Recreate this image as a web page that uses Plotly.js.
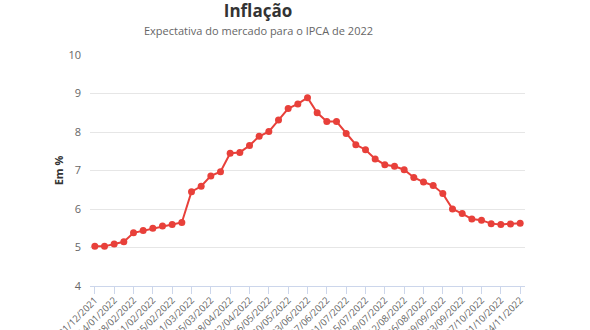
<!DOCTYPE html>
<html>
<head>
<meta charset="utf-8">
<script src="https://cdn.plot.ly/plotly-3.0.1.min.js"></script>
<style>html,body{margin:0;padding:0;background:#fff;}#chart{width:590px;height:330px;}</style>
</head>
<body>
<div id="chart"></div>
<script>
const dates = [
  "31/12/2021","07/01/2022","14/01/2022","21/01/2022","28/02/2022","04/02/2022","11/02/2022","18/02/2022",
  "25/02/2022","04/03/2022","11/03/2022","18/03/2022","25/03/2022","01/04/2022","08/04/2022","15/04/2022",
  "22/04/2022","29/04/2022","06/05/2022","13/05/2022","20/05/2022","27/05/2022","03/06/2022","10/06/2022",
  "17/06/2022","24/06/2022","01/07/2022","08/07/2022","15/07/2022","22/07/2022","29/07/2022","05/08/2022",
  "12/08/2022","19/08/2022","26/08/2022","02/09/2022","09/09/2022","16/09/2022","23/09/2022","30/09/2022",
  "07/10/2022","14/10/2022","21/10/2022","28/10/2022","04/11/2022"
];
const ipca = [
  5.03,5.03,5.09,5.15,5.38,5.44,5.50,5.56,
  5.60,5.65,6.45,6.59,6.86,6.97,7.45,7.47,
  7.65,7.89,8.01,8.31,8.61,8.73,8.89,8.50,
  8.27,8.27,7.96,7.67,7.54,7.30,7.15,7.11,
  7.02,6.82,6.70,6.61,6.40,6.00,5.88,5.74,
  5.71,5.62,5.60,5.61,5.63
];
const yTicks = [4,5,6,7,8,9,10];

const trace = {
  x: dates, y: ipca, type: 'scatter', mode: 'lines+markers',
  line: {color: '#e8403a', width: 2},
  marker: {color: '#e8403a', size: 7},
  hoverinfo: 'x+y'
};
const layout = {
  width: 590, height: 330,
  margin: {l: 90, r: 65, t: 55, b: 44},
  paper_bgcolor: '#fff', plot_bgcolor: '#fff',
  font: {family: '"Open Sans", sans-serif', color: '#666'},
  showlegend: false,
  title: {text: '<b>Inflação</b>', x: 258/590, xref: 'container', xanchor: 'center', y: 1 - 11/330, yref: 'container', yanchor: 'middle', font: {size: 17, color: '#333', family: '"Open Sans", sans-serif'}},
  annotations: [{text: 'Expectativa do mercado para o IPCA de 2022', xref: 'paper', yref: 'paper', x: 0, y: 0, showarrow: false,
    xanchor: 'center', yanchor: 'middle', font: {size: 11, color: '#666'}}],
  xaxis: {
    type: 'category', categoryorder: 'array', categoryarray: dates,
    range: [-0.5, dates.length - 0.5], automargin: false,
    tickmode: 'linear', tick0: 0, dtick: 2, tickangle: -45,
    ticks: 'outside', ticklen: 7, tickcolor: '#ccd6eb', tickwidth: 1,
    showline: true, linecolor: '#ccd6eb', linewidth: 1,
    showgrid: false, zeroline: false, ticklabelstandoff: -3,
    tickfont: {size: 9.5, color: '#666'}
  },
  yaxis: {
    range: [4, 10], tickvals: yTicks, automargin: false,
    showgrid: true, gridcolor: '#e6e6e6', gridwidth: 1, zeroline: false, showline: false,
    ticks: '', ticklabelstandoff: 8,
    tickfont: {size: 11, color: '#666'},
    title: {text: '<b>Em %</b>', standoff: 2, font: {size: 11, color: '#333'}}
  }
};
const plotW = 590 - 90 - 65, plotH = 330 - 55 - 44;
layout.annotations[0].x = (258 - 90) / plotW;
layout.annotations[0].y = (330 - 44 - 31) / plotH;
Plotly.newPlot('chart', [trace], layout, {displayModeBar: false, staticPlot: true});
</script>
</body>
</html>
